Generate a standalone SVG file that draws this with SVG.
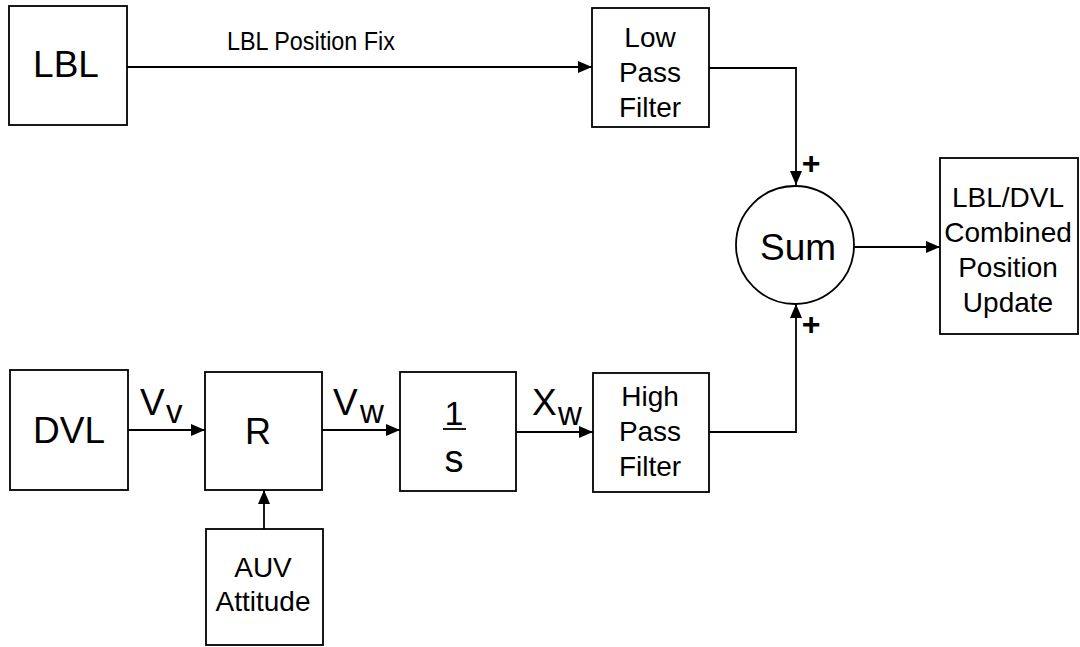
<svg xmlns="http://www.w3.org/2000/svg" width="1080" height="647" viewBox="0 0 1080 647">
<style>
.box{fill:#fff;stroke:#000;stroke-width:1.8}
.ln{fill:none;stroke:#000;stroke-width:1.8}
text{font-family:"Liberation Sans",Arial,sans-serif;fill:#000}
.big{font-size:37px}
.lbl{font-size:28px;text-anchor:middle}
.c{text-anchor:middle}
</style>
<defs>
<marker id="ah" viewBox="0 0 14 12" refX="14" refY="6" markerWidth="14" markerHeight="12" markerUnits="userSpaceOnUse" orient="auto">
<path d="M0,0 L14,6 L0,12 Z" fill="#000"/>
</marker>
</defs>
<rect width="1080" height="647" fill="#fff"/>
<g id="connectors">
<line class="ln" x1="127" y1="67" x2="592" y2="67" marker-end="url(#ah)"/>
<polyline class="ln" points="709,68 796,68 796,185" marker-end="url(#ah)"/>
<polyline class="ln" points="709,432 796,432 796,304" marker-end="url(#ah)"/>
<line class="ln" x1="853" y1="247" x2="940" y2="247" marker-end="url(#ah)"/>
<line class="ln" x1="128" y1="430" x2="205" y2="430" marker-end="url(#ah)"/>
<line class="ln" x1="322" y1="430" x2="400" y2="430" marker-end="url(#ah)"/>
<line class="ln" x1="516" y1="432" x2="593" y2="432" marker-end="url(#ah)"/>
<line class="ln" x1="264" y1="529" x2="264" y2="490" marker-end="url(#ah)"/>
<text x="227" y="50" font-size="25" textLength="168" lengthAdjust="spacingAndGlyphs">LBL Position Fix</text>
<text x="811" y="174" font-size="32" font-weight="bold" class="c">+</text>
<text x="811" y="335" font-size="32" font-weight="bold" class="c">+</text>
<text x="140" y="415" font-size="37">V</text>
<text x="166" y="423" font-size="33">v</text>
<text x="333" y="415" font-size="37">V</text>
<text x="360" y="423" font-size="33">w</text>
<text x="532" y="415" font-size="37">X</text>
<text x="558" y="425" font-size="33">w</text>
</g>
<g id="lbl">
<rect class="box" x="9" y="6" width="118" height="119"/>
<text class="big c" x="66" y="77">LBL</text>
</g>
<g id="lowpass">
<rect class="box" x="592" y="8" width="117" height="119"/>
<text class="lbl" x="650" y="47">Low</text>
<text class="lbl" x="650" y="82">Pass</text>
<text class="lbl" x="650" y="117">Filter</text>
</g>
<g id="sum">
<circle class="box" cx="795" cy="245" r="59"/>
<text class="big c" x="798" y="260">Sum</text>
</g>
<g id="output">
<rect class="box" x="940" y="158" width="138" height="176"/>
<text class="lbl" x="1008" y="207">LBL/DVL</text>
<text class="lbl" x="1008" y="242">Combined</text>
<text class="lbl" x="1008" y="277">Position</text>
<text class="lbl" x="1008" y="312">Update</text>
</g>
<g id="dvl">
<rect class="box" x="10" y="370" width="118" height="120"/>
<text class="big c" x="69" y="443">DVL</text>
</g>
<g id="r">
<rect class="box" x="205" y="372" width="117" height="118"/>
<text class="c" font-size="36" x="258" y="444">R</text>
</g>
<g id="integrator">
<rect class="box" x="400" y="372" width="116" height="119"/>
<text class="c" font-size="34" x="454" y="425">1</text>
<line class="ln" x1="443" y1="429" x2="466" y2="429" stroke-width="2.5"/>
<text class="c" font-size="38" x="454" y="472">s</text>
</g>
<g id="highpass">
<rect class="box" x="593" y="373" width="116" height="119"/>
<text class="lbl" x="650" y="406">High</text>
<text class="lbl" x="650" y="441">Pass</text>
<text class="lbl" x="650" y="476">Filter</text>
</g>
<g id="auv">
<rect class="box" x="206" y="529" width="117" height="116"/>
<text class="lbl" x="263" y="577">AUV</text>
<text class="lbl" x="263" y="611">Attitude</text>
</g>
</svg>
